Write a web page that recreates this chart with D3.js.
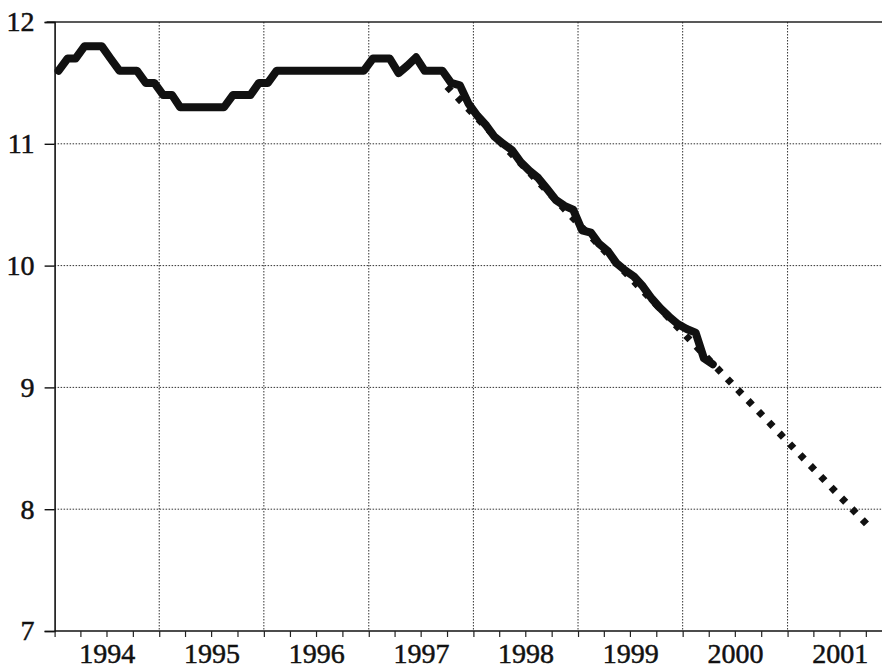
<!DOCTYPE html>
<html lang="en">
<head>
<meta charset="utf-8">
<title>Rate 1994 - 2001</title>
<script src="https://d3js.org/d3.v7.min.js"></script>
<style>
    body {
        margin: 0;
        padding: 0;
        background: white;
        overflow: hidden;
    }
</style>
</head>
<body>
<div id="chart"></div>
<script>
    // monthly values, Jan 1994 .. Apr 2000
    const startYear = 1994;
    const rateValues = [
        11.6, 11.7, 11.7, 11.8, 11.8, 11.8, 11.7, 11.6, 11.6, 11.6, 11.5, 11.5,
        11.4, 11.4, 11.3, 11.3, 11.3, 11.3, 11.3, 11.3, 11.4, 11.4, 11.4, 11.5,
        11.5, 11.6, 11.6, 11.6, 11.6, 11.6, 11.6, 11.6, 11.6, 11.6, 11.6, 11.6,
        11.7, 11.7, 11.7, 11.58, 11.64, 11.71, 11.6, 11.6, 11.6, 11.5, 11.48, 11.33,
        11.23, 11.15, 11.06, 11.0, 10.95, 10.85, 10.78, 10.72, 10.63, 10.54, 10.49, 10.46,
        10.29, 10.27, 10.18, 10.12, 10.02, 9.96, 9.91, 9.83, 9.73, 9.65, 9.58, 9.52,
        9.48, 9.45, 9.24, 9.19
    ];
    // straight trend line (start and end)
    const trendDates = [new Date(1997, 9, 1), new Date(2001, 9, 15)];
    const trendValues = [11.47, 7.85];

    const yearLabels = [1994, 1995, 1996, 1997, 1998, 1999, 2000, 2001];
    const yTicks = [7, 8, 9, 10, 11, 12];

    const w = 882;
    const h = 669;
    const left = 54.6;
    const yearWidth = 104.7;
    const fontFamily = "'Liberation Serif', 'Times New Roman', serif";

    const svg = d3.select("#chart")
        .append("svg")
        .attr("width", w)
        .attr("height", h);

    const xScale = d3.scaleTime()
        .domain([new Date(startYear, 0, 1), new Date(2002, 0, 1)])
        .range([left, left + 8 * yearWidth]);

    const yScale = d3.scaleLinear()
        .domain([7, 12])
        .range([631, 22]);

    const x0 = xScale.range()[0];

    const styleText = sel => sel
        .style("font-family", fontFamily)
        .style("font-size", "28px")
        .style("fill", "#111")
        .style("stroke", "#111")
        .style("stroke-width", "0.5px");

    // horizontal grid
    svg.append("g")
        .selectAll("line")
        .data(yTicks.filter(d => d > 7 && d < 12))
        .enter().append("line")
        .attr("x1", x0)
        .attr("x2", w)
        .attr("y1", d => yScale(d))
        .attr("y2", d => yScale(d))
        .attr("stroke", "#333")
        .attr("stroke-width", 1)
        .attr("stroke-dasharray", "1.5,1.5");

    // vertical grid at year boundaries
    svg.append("g")
        .selectAll("line")
        .data(yearLabels.slice(1))
        .enter().append("line")
        .attr("x1", d => xScale(new Date(d, 0, 1)))
        .attr("x2", d => xScale(new Date(d, 0, 1)))
        .attr("y1", yScale(12))
        .attr("y2", yScale(7))
        .attr("stroke", "#333")
        .attr("stroke-width", 1)
        .attr("stroke-dasharray", "1.5,1.5");

    // top frame line
    svg.append("line")
        .attr("x1", x0 - 8)
        .attr("x2", w)
        .attr("y1", yScale(12))
        .attr("y2", yScale(12))
        .attr("stroke", "#222")
        .attr("stroke-width", 1.6);

    // y axis
    const yAxis = d3.axisLeft(yScale)
        .tickValues(yTicks)
        .tickSize(10)
        .tickPadding(10)
        .tickFormat(d3.format("d"));

    const gy = svg.append("g")
        .attr("transform", `translate(${x0}, 0)`)
        .call(yAxis);
    gy.select(".domain").attr("stroke", "#111").attr("stroke-width", 1.6);
    gy.selectAll(".tick line").attr("stroke", "#111").attr("stroke-width", 1.4);
    gy.selectAll("text").call(styleText);

    // x axis: quarterly ticks
    const xAxis = d3.axisBottom(xScale)
        .ticks(d3.timeMonth.every(3))
        .tickSize(6)
        .tickSizeOuter(0)
        .tickFormat("");

    const gx = svg.append("g")
        .attr("transform", `translate(0, ${yScale(7)})`)
        .call(xAxis);
    gx.select(".domain")
        .attr("d", `M${x0},0H${w}`)
        .attr("stroke", "#111").attr("stroke-width", 1.6);
    gx.selectAll(".tick line").attr("stroke", "#222").attr("stroke-width", 1.2);

    // year labels centred in each year
    const labelAxis = d3.axisBottom(xScale)
        .tickValues(yearLabels.map(y => new Date(y, 6, 2)))
        .tickSize(0)
        .tickPadding(12)
        .tickFormat(d3.timeFormat("%Y"));

    const gl = svg.append("g")
        .attr("transform", `translate(0, ${yScale(7)})`)
        .call(labelAxis);
    gl.select(".domain").remove();
    gl.selectAll("text").call(styleText);

    // trend (dotted)
    const trendLine = d3.line()
        .x(d => xScale(d[0]))
        .y(d => yScale(d[1]));

    svg.append("path")
        .datum(trendDates.map((d, i) => [d, trendValues[i]]))
        .attr("d", trendLine)
        .attr("fill", "none")
        .attr("stroke", "#111")
        .attr("stroke-width", 7)
        .attr("stroke-dasharray", "6,9");

    // actual series
    const line = d3.line()
        .x((d, i) => xScale(new Date(startYear, i, 15)))
        .y(d => yScale(d));

    svg.append("path")
        .datum(rateValues)
        .attr("d", line)
        .attr("fill", "none")
        .attr("stroke", "#111")
        .attr("stroke-width", 8)
        .attr("stroke-linejoin", "round")
        .attr("stroke-linecap", "round");
</script>
</body>
</html>
